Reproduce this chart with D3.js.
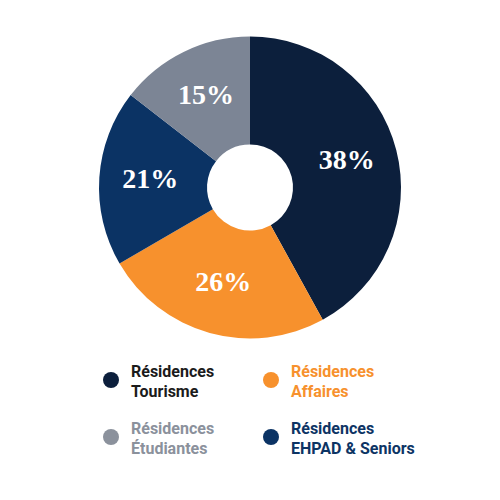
<!DOCTYPE html>
<html><head><meta charset="utf-8">
<script src="https://cdn.jsdelivr.net/npm/d3@7/dist/d3.min.js"></script>
<style>body{margin:0;background:#fff}</style>
</head><body>
<svg id="c" width="500" height="500"></svg>
<script>
// Data (slice sizes as drawn, labels as printed)
const categories = ["Résidences Tourisme", "Résidences Affaires", "Résidences EHPAD & Seniors", "Résidences Étudiantes"];
const sliceValues = [42, 24.6, 18.9, 14.5];
const sliceLabels = ["38%", "26%", "21%", "15%"];
const sliceColors = ["#0c1f3c", "#f7912d", "#0b3364", "#7c8595"];
const legendLines = [["Résidences", "Tourisme"], ["Résidences", "Affaires"], ["Résidences", "Étudiantes"], ["Résidences", "EHPAD & Seniors"]];
const legendColors = ["#1b1b1b", "#f7912d", "#8b919c", "#0d3464"];
const legendDot = ["#0c1f3c", "#f7912d", "#8b919c", "#0b3364"];

const svg = d3.select("#c");
const cx = 250, cy = 187.5, rOuter = 151, rInner = 43;
const g = svg.append("g").attr("transform", `translate(${cx},${cy})`);
const pie = d3.pie().sort(null).value(d => d);
const arcs = pie(sliceValues);
const arc = d3.arc().innerRadius(rInner).outerRadius(rOuter);
const labelArc = d3.arc().innerRadius(100).outerRadius(100);

g.selectAll("path").data(arcs).join("path")
  .attr("d", arc).attr("fill", (d, i) => sliceColors[i]);

g.selectAll("text").data(arcs).join("text")
  .attr("transform", d => `translate(${labelArc.centroid(d)})`)
  .attr("text-anchor", "middle").attr("dy", "0.24em")
  .attr("font-family", "'Liberation Serif', serif").attr("font-weight", "bold")
  .attr("font-size", 28).attr("fill", "#fff")
  .text((d, i) => sliceLabels[i]);

// Legend
const legPos = [[111, 380], [271, 380], [111, 437], [271, 437]];
const leg = svg.append("g");
legendLines.forEach((lines, i) => {
  const [x, y] = legPos[i];
  leg.append("circle").attr("cx", x).attr("cy", y).attr("r", 8).attr("fill", legendDot[i]);
  const t = leg.append("text").attr("x", x + 20).attr("y", y - 3)
    .attr("font-family", "Roboto, sans-serif").attr("font-weight", 700)
    .attr("font-size", 16).attr("fill", legendColors[i]);
  lines.forEach((l, j) => t.append("tspan").attr("x", x + 20).attr("dy", j ? 20 : 0).text(l));
});
</script>
</body></html>
